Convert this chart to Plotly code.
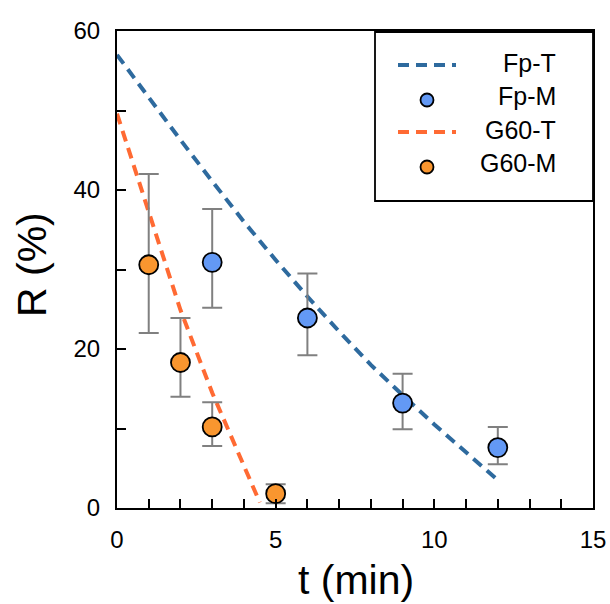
import plotly.graph_objects as go

# ---- data ----
fp_t_x = [0, 1, 2, 3, 4, 5, 6, 7, 8, 9, 10, 11, 12]
fp_t_y = [57.0, 51.6, 46.3, 41.1, 36.0, 31.2, 26.6, 22.2, 18.0, 14.2, 10.5, 7.0, 3.5]

g60_t_x = [0, 1, 2, 3, 4, 4.5]
g60_t_y = [49.6, 37.2, 24.9, 14.5, 5.2, 0.7]

fp_m_x = [3, 6, 9, 12]
fp_m_y = [30.9, 23.9, 13.2, 7.6]
fp_m_err_plus = [6.7, 5.6, 3.7, 2.6]
fp_m_err_minus = [5.7, 4.7, 3.3, 2.1]

g60_m_x = [1, 2, 3, 5]
g60_m_y = [30.6, 18.3, 10.2, 1.8]
g60_m_err_plus = [11.4, 5.6, 3.1, 1.2]
g60_m_err_minus = [8.6, 4.3, 2.4, 1.2]

legend_labels = ["Fp-T", "Fp-M", "G60-T", "G60-M"]
x_title = "t (min)"
y_title = "R (%)"

BLUE_LINE = "#2E6A9E"
ORANGE_LINE = "#FF6A33"
BLUE_FILL = "#6399F5"
ORANGE_FILL = "#F9962F"
FONT = "Liberation Sans, Arial, sans-serif"

fig = go.Figure()

fig.add_trace(go.Scatter(x=fp_t_x, y=fp_t_y, mode="lines", line=dict(color=BLUE_LINE, width=4, dash="11px,7px"),
                         showlegend=False, hoverinfo="skip"))
fig.add_trace(go.Scatter(x=g60_t_x, y=g60_t_y, mode="lines", line=dict(color=ORANGE_LINE, width=4, dash="11px,7px"),
                         showlegend=False, hoverinfo="skip"))

fig.add_trace(go.Scatter(x=fp_m_x, y=fp_m_y, mode="markers",
                         marker=dict(size=19, color=BLUE_FILL, line=dict(color="black", width=1.8)),
                         error_y=dict(type="data", array=fp_m_err_plus, arrayminus=fp_m_err_minus,
                                      color="#808080", thickness=2, width=10),
                         showlegend=False))
fig.add_trace(go.Scatter(x=g60_m_x, y=g60_m_y, mode="markers",
                         marker=dict(size=19, color=ORANGE_FILL, line=dict(color="black", width=1.8)),
                         error_y=dict(type="data", array=g60_m_err_plus, arrayminus=g60_m_err_minus,
                                      color="#808080", thickness=2, width=10),
                         showlegend=False))

# ---- manual legend (right-aligned text, as in the reference) ----
L, R_, T, B = 117, 593, 31, 508
W, H = R_ - L, B - T
def px(xp):
    return (xp - L) / W
def py(yp):
    return (B - yp) / H

shapes = []
annotations = []
shapes.append(dict(type="rect", xref="paper", yref="paper", x0=px(375), x1=px(593), y0=py(201), y1=py(32),
                   line=dict(color="black", width=1.8), fillcolor="white", layer="above"))
rows_y = [65, 98, 132, 165]
kinds = [("line", BLUE_LINE), ("marker", BLUE_FILL), ("line", ORANGE_LINE), ("marker", ORANGE_FILL)]
for lab, yy, (kind, col) in zip(legend_labels, rows_y, kinds):
    if kind == "line":
        shapes.append(dict(type="line", xref="paper", yref="paper", x0=px(398), x1=px(456), y0=py(yy), y1=py(yy),
                           line=dict(color=col, width=4, dash="11px,7px"), layer="above"))
    else:
        shapes.append(dict(type="circle", xref="paper", yref="paper", xsizemode="pixel", ysizemode="pixel",
                           xanchor=px(427), yanchor=py(yy + 2), x0=-6.5, x1=6.5, y0=-6.5, y1=6.5,
                           fillcolor=col, line=dict(color="black", width=1.8), layer="above"))
    annotations.append(dict(xref="paper", yref="paper", x=px(558), y=py(yy - 2), text=lab, showarrow=False,
                            xanchor="right", yanchor="middle", font=dict(family=FONT, size=25, color="black")))

# axis titles placed as annotations for exact positioning
annotations.append(dict(xref="paper", yref="paper", x=px(356), y=py(580), text=x_title, showarrow=False,
                        xanchor="center", yanchor="middle", font=dict(family=FONT, size=41, color="black")))
annotations.append(dict(xref="paper", yref="paper", x=px(32), y=py(265), text=y_title, showarrow=False,
                        textangle=-90, xanchor="center", yanchor="middle",
                        font=dict(family=FONT, size=41, color="black")))

fig.update_layout(
    width=610, height=604,
    margin=dict(l=L, r=610 - R_, t=T, b=604 - B, autoexpand=False),
    paper_bgcolor="white", plot_bgcolor="white",
    font=dict(family=FONT, color="black"),
    shapes=shapes, annotations=annotations,
    showlegend=False,
)
fig.update_xaxes(range=[0, 15], tick0=0, dtick=5, ticks="inside", ticklen=9, tickwidth=2, tickcolor="black",
                 minor=dict(dtick=1, ticks="inside", ticklen=9, tickwidth=2, tickcolor="black"),
                 showline=True, linecolor="black", linewidth=2, mirror=True, showgrid=False, zeroline=False,
                 tickfont=dict(size=24, family=FONT), ticklabelstandoff=9, automargin=False)
fig.update_yaxes(range=[0, 60], tick0=0, dtick=20, ticks="inside", ticklen=9, tickwidth=2, tickcolor="black",
                 minor=dict(dtick=10, ticks="inside", ticklen=9, tickwidth=2, tickcolor="black"),
                 showline=True, linecolor="black", linewidth=2, mirror=True, showgrid=False, zeroline=False,
                 tickfont=dict(size=24, family=FONT), ticklabelstandoff=10, automargin=False)

fig.write_html("out.html", config={"displayModeBar": False},
               post_script="document.body.style.margin='0';document.body.style.overflow='hidden';")
